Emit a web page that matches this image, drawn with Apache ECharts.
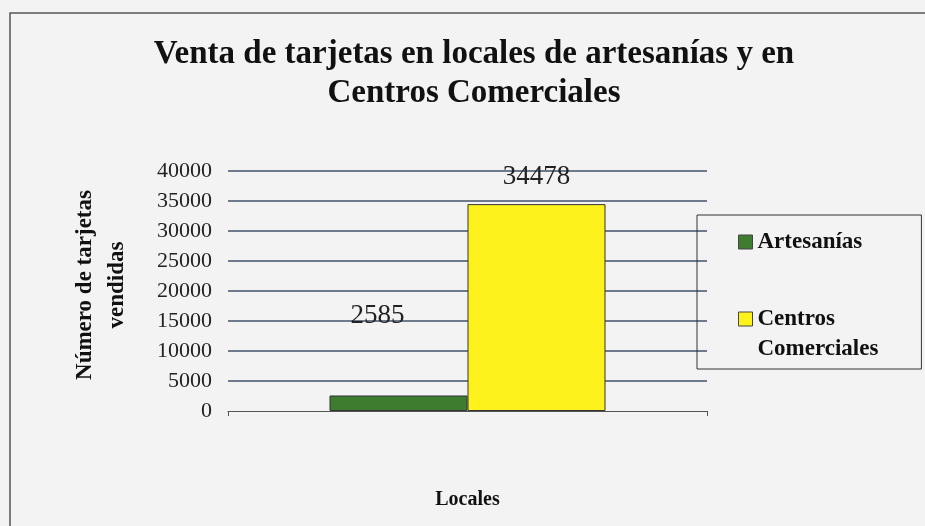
<!DOCTYPE html>
<html>
<head>
<meta charset="utf-8">
<script src="https://cdn.jsdelivr.net/npm/echarts@6/dist/echarts.min.js"></script>
<style>
  html, body { margin: 0; padding: 0; background: #f3f3f3; }
  #chart { width: 925px; height: 526px; }
</style>
</head>
<body>
<div id="chart"></div>
<script>
// Card sales by type of shop
const categories = ['Locales'];
const seriesNames = ['Artesanías', 'Centros Comerciales'];
const artesaniasValues = [2585];
const centrosValues = [34478];
const yTicks = [0, 5000, 10000, 15000, 20000, 25000, 30000, 35000, 40000];

const serif = "'Liberation Serif', 'Times New Roman', serif";
const chart = echarts.init(document.getElementById('chart'));

chart.setOption({
  backgroundColor: '#f3f3f3',
  animation: false,
  title: {
    text: 'Venta de tarjetas en locales de artesanías y en\nCentros Comerciales',
    left: 469,
    top: 30,
    textAlign: 'center',
    textStyle: { fontFamily: serif, fontWeight: 'bold', fontSize: 33, lineHeight: 39, color: '#111' }
  },
  graphic: [{
    type: 'rect',
    shape: { x: 10, y: 13, width: 1000, height: 1000 },
    style: { fill: 'none', stroke: '#555', lineWidth: 1.5 },
    silent: true
  }],
  legend: {
    orient: 'vertical',
    left: 697,
    top: 215,
    padding: [12, 43, 5, 41],
    itemGap: 17,
    itemWidth: 14,
    itemHeight: 14,
    icon: 'rect',
    borderColor: '#333',
    borderWidth: 1,
    data: [
      { name: seriesNames[0], itemStyle: { borderColor: '#444', borderWidth: 1 } },
      { name: seriesNames[1], itemStyle: { borderColor: '#444', borderWidth: 1 } }
    ],
    // the leading blank line keeps the swatch level with "Centros"
    formatter: function (name) {
      return name === 'Centros Comerciales' ? '\nCentros\nComerciales' : name;
    },
    textStyle: { fontFamily: serif, fontWeight: 'bold', fontSize: 23, lineHeight: 30, color: '#111' }
  },
  grid: { left: 228, right: 218, top: 171, bottom: 115 },
  xAxis: {
    type: 'category',
    data: categories,
    name: 'Locales',
    nameLocation: 'middle',
    nameGap: 79,
    nameTextStyle: { fontFamily: serif, fontWeight: 'bold', fontSize: 20, color: '#111' },
    axisLine: { lineStyle: { color: '#555', width: 1 } },
    axisTick: { show: true, length: 5, lineStyle: { color: '#555' } },
    axisLabel: { show: false }
  },
  yAxis: {
    type: 'value',
    min: yTicks[0],
    max: yTicks[yTicks.length - 1],
    interval: yTicks[1] - yTicks[0],
    name: 'Número de tarjetas\nvendidas',
    nameLocation: 'middle',
    nameGap: 95,
    nameRotate: 90,
    nameTextStyle: {
      fontFamily: serif, fontWeight: 'bold', fontSize: 23, lineHeight: 32, color: '#111',
      padding: [0, 0, 0, 12]
    },
    axisLine: { show: false },
    axisTick: { show: false },
    axisLabel: {
      fontFamily: serif, fontSize: 22, color: '#222', margin: 16,
      formatter: function (v) { return String(v); }
    },
    splitLine: { showMinLine: false, lineStyle: { color: '#6e7a8c', width: 2 } }
  },
  series: [
    {
      name: seriesNames[0],
      type: 'bar',
      data: artesaniasValues,
      barWidth: 138,
      barGap: '0%',
      itemStyle: { color: '#3e7c2f', borderColor: '#333', borderWidth: 1 },
      label: {
        show: true, position: 'top', offset: [-21, -61],
        fontFamily: serif, fontSize: 27, color: '#222'
      }
    },
    {
      name: seriesNames[1],
      type: 'bar',
      data: centrosValues,
      barWidth: 138,
      barGap: '0%',
      itemStyle: { color: '#fef21c', borderColor: '#333', borderWidth: 1 },
      label: {
        show: true, position: 'top', offset: [0, -9],
        fontFamily: serif, fontSize: 27, color: '#222'
      }
    }
  ]
});
</script>
</body>
</html>
